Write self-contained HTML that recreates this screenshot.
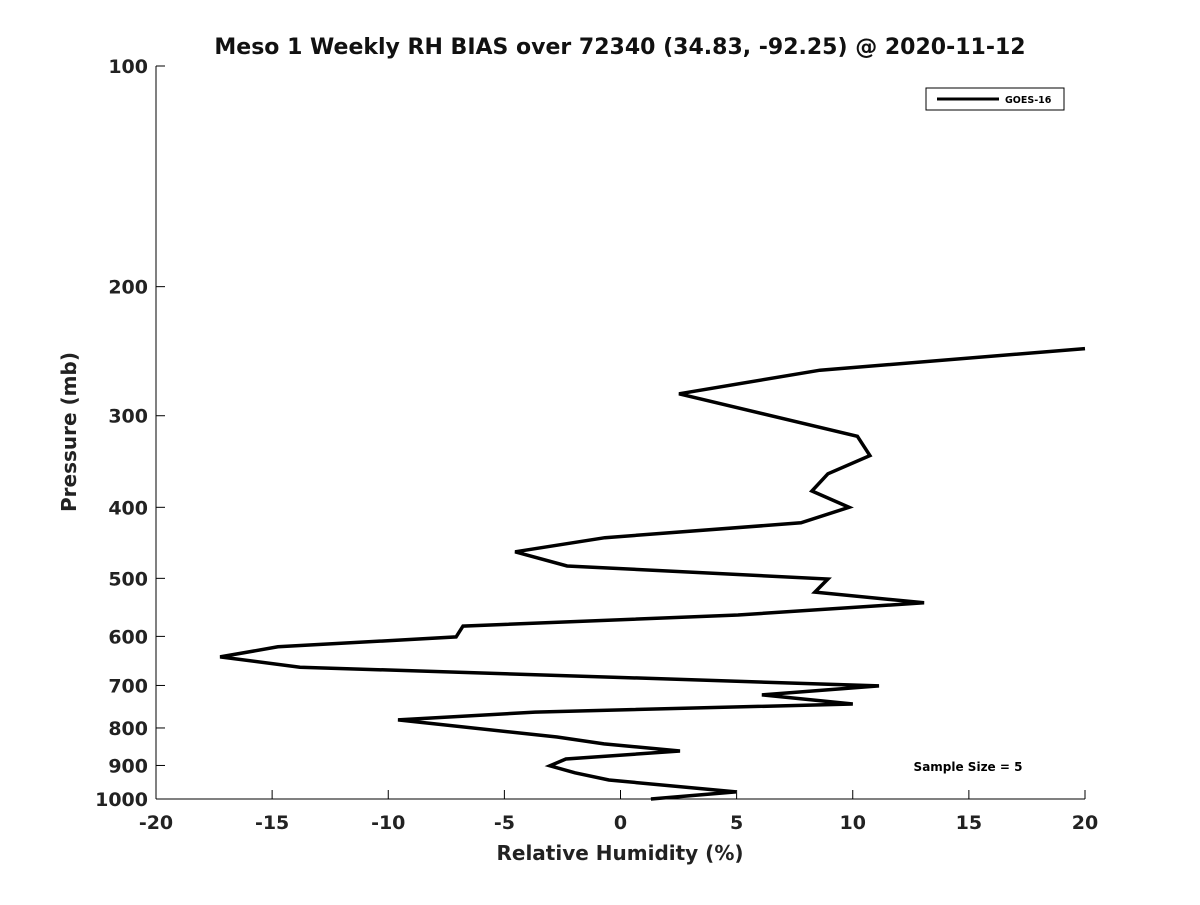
<!DOCTYPE html>
<html><head><meta charset="utf-8"><style>
body{margin:0;background:#fff;}
svg{font-family:"DejaVu Sans","Liberation Sans",sans-serif;font-weight:bold;}
</style></head><body>
<svg id="chart" width="1200" height="900">
<rect width="1200" height="900" fill="#fff"/>
<text x="620" y="54" font-size="22" text-anchor="middle" fill="#111">Meso 1 Weekly RH BIAS over 72340 (34.83, -92.25) @ 2020-11-12</text>
<text x="620" y="860" font-size="20" text-anchor="middle" fill="#222">Relative Humidity (%)</text>
<text transform="translate(76,432) rotate(-90)" font-size="20" text-anchor="middle" fill="#222">Pressure (mb)</text>
<g id="axes"></g>
<g>
<rect x="926" y="88" width="138" height="22" fill="#fff" stroke="#000" stroke-width="1"/>
<line x1="937" y1="99" x2="999" y2="99" stroke="#000" stroke-width="3"/>
<text x="1005" y="103" font-size="9.5" fill="#000">GOES-16</text>
</g>
<text x="968" y="771" font-size="12" text-anchor="middle" fill="#000">Sample Size = 5</text>
</svg>
<script>
const xTicks=[-20,-15,-10,-5,0,5,10,15,20];
const yTicks=[100,200,300,400,500,600,700,800,900,1000];
const rhBias=[20,8.59,2.52,10.2,10.74,8.93,8.24,9.84,7.77,-0.67,-4.54,-2.3,8.93,8.37,13.07,5.06,-6.78,-7.08,-14.75,-17.24,-13.8,-0.32,11.13,6.09,10.0,-3.68,-9.58,-2.73,-0.71,2.56,-2.35,-3.04,-1.96,-0.5,4.97,1.31];
const pressure=[243,260,280,320,340,360,380,400,420,440,460,481,501,522,540,561,581,601,620,640,661,682,701,721,742,761,780,823,841,860,882,901,921,942,978,1000];
const L=156,R=1085,T=66,B=799;
const xs=v=>L+(v+20)/40*(R-L);
const ys=p=>T+(Math.log10(p)-2)*(B-T);
const NS="http://www.w3.org/2000/svg";
const svg=document.getElementById('chart');
const g=document.getElementById('axes');
function mk(t,a){const e=document.createElementNS(NS,t);for(const k in a)e.setAttribute(k,a[k]);return e;}
let ax=mk('line',{x1:L,y1:B,x2:R,y2:B,stroke:'#000','stroke-width':1});


g.appendChild(ax);
let ay=mk('line',{x1:L,y1:T,x2:L,y2:B,stroke:'#000','stroke-width':1});


g.appendChild(ay);
xTicks.forEach(v=>{
 const x=xs(v);
 g.appendChild(mk('line',{x1:x,y1:B,x2:x,y2:B-9,stroke:'#000'}));
 const t=mk('text',{x:x,y:B+30,'font-size':19,'text-anchor':'middle',fill:'#222'});
 t.textContent=v;
 
 
 g.appendChild(t);
});
yTicks.forEach(p=>{
 const y=ys(p);
 g.appendChild(mk('line',{x1:L,y1:y,x2:L+9,y2:y,stroke:'#000'}));
 const t=mk('text',{x:L-8,y:y+7,'font-size':19,'text-anchor':'end',fill:'#222'});
 t.textContent=p;
 
 
 g.appendChild(t);
});
const pts=rhBias.map((v,i)=>xs(v).toFixed(1)+','+ys(pressure[i]).toFixed(1)).join(' ');
const line=mk('polyline',{points:pts,fill:'none',stroke:'#000','stroke-width':3.5,'stroke-linejoin':'miter'});


svg.appendChild(line);
</script>
</body></html>
